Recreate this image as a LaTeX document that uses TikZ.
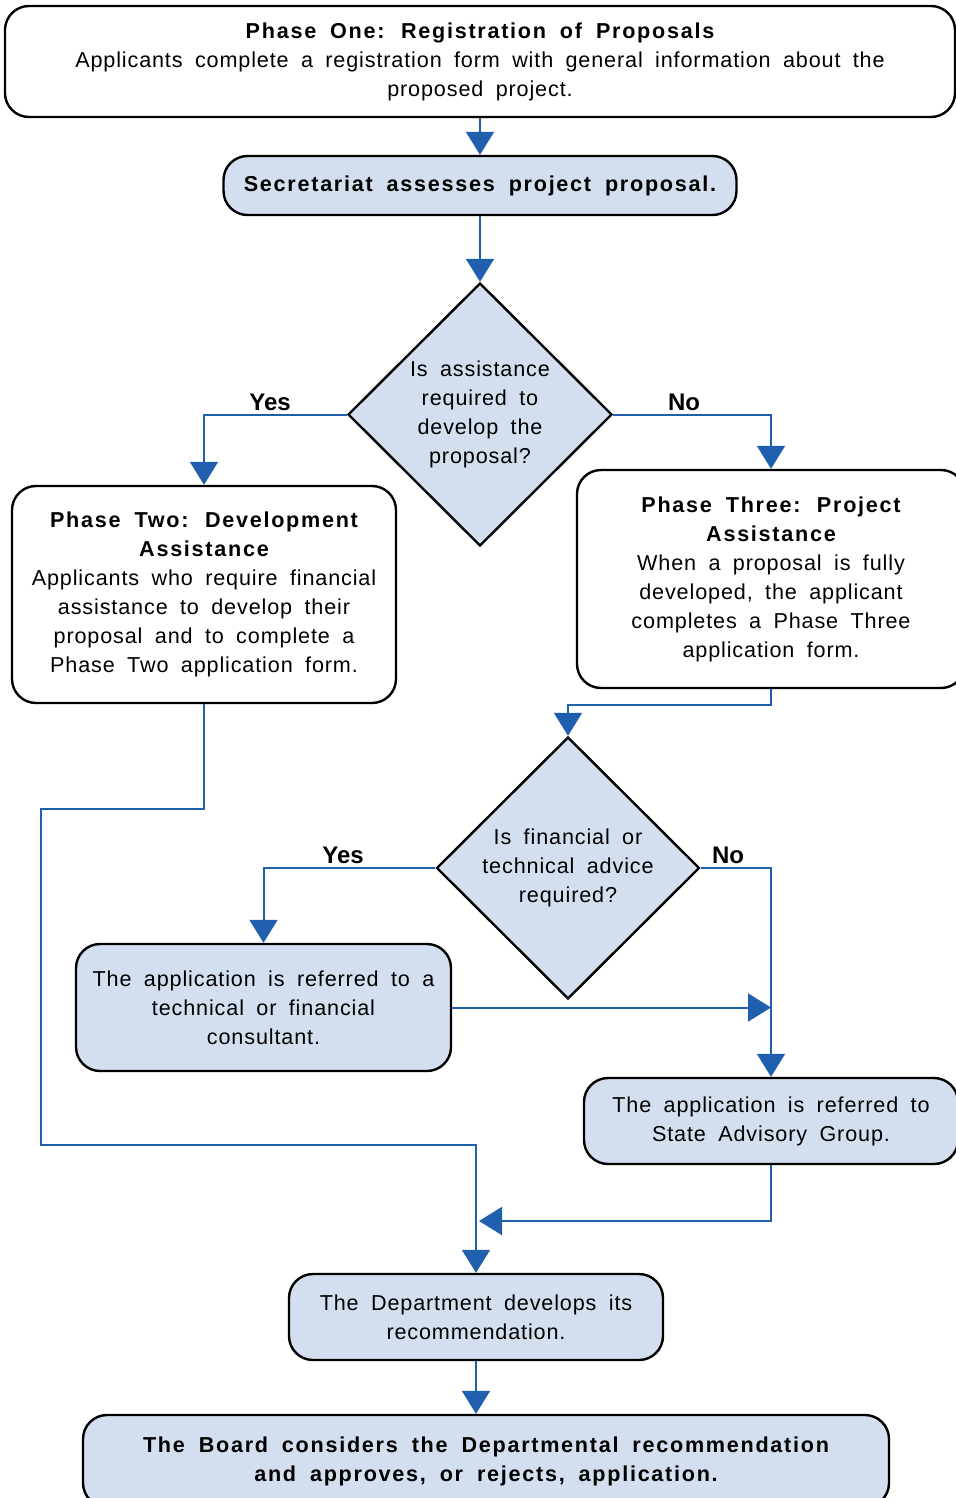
\documentclass[tikz,border=0pt]{standalone}
\usepackage{fontspec}
\setmainfont{Liberation Sans}[LetterSpace=4,WordSpace=1.8,
  BoldFeatures={LetterSpace=8,WordSpace=1.8}]
\newfontfamily\answerfont{Liberation Sans}
\usetikzlibrary{arrows.meta,positioning,calc,shapes.geometric}
\usepackage{xcolor}
\definecolor{FlowBlue}{HTML}{1F5FAD}
\definecolor{BoxBlue}{HTML}{D3DFEE}
\newcommand{\px}{0.5pt}

\tikzset{
  box/.style={draw=black,line width=1.2pt,rounded corners=12pt,align=center,inner sep=0pt,
    font=\fontsize{10.8}{14.5}\selectfont},
  plainbox/.style={box,fill=white},
  bluebox/.style={box,fill=BoxBlue},
  decision/.style={diamond,aspect=1,draw=black,line width=1.2pt,fill=BoxBlue,inner sep=0pt,
    align=center,font=\fontsize{10.8}{14.5}\selectfont},
  link/.style={draw=FlowBlue,line width=1pt},
  arr/.style={link,-{Triangle[width=14pt,length=11.5pt]}},
  answer/.style={font=\answerfont\bfseries\fontsize{12}{14}\selectfont},
}

\begin{document}
\begin{tikzpicture}[x=0.5pt,y=-0.5pt]
  \useasboundingbox (0,0) rectangle (956,1498);
  \clip (0,0) rectangle (956,1498);

  % boxes
  \node[plainbox,minimum width=950*\px,minimum height=111*\px] (p1) at (480,61.5)
    {\bfseries Phase One: Registration of Proposals\\
     Applicants complete a registration form with general information about the\\
     proposed project.};
  \node[bluebox,minimum width=513*\px,minimum height=59*\px] (sec) at (480,185.5)
    {\bfseries Secretariat assesses project proposal.};
  \node[decision,minimum width=264*\px,minimum height=263*\px] (ask1) at (480,414.5)
    {Is assistance\\ required to\\ develop the\\ proposal?};
  \node[plainbox,minimum width=384*\px,minimum height=217*\px] (p2) at (204,594.5)
    {\bfseries Phase Two: Development\\ \bfseries Assistance\\
     Applicants who require financial\\ assistance to develop their\\
     proposal and to complete a\\ Phase Two application form.};
  \node[plainbox,minimum width=388*\px,minimum height=218*\px] (p3) at (771,579)
    {\bfseries Phase Three: Project\\ \bfseries Assistance\\
     When a proposal is fully\\ developed, the applicant\\
     completes a Phase Three\\ application form.};
  \node[decision,minimum width=263*\px,minimum height=262*\px] (ask2) at (568,868)
    {Is financial or\\ technical advice\\ required?};
  \node[bluebox,minimum width=375*\px,minimum height=127*\px] (cons) at (263.5,1007.5)
    {The application is referred to a\\ technical or financial\\ consultant.};
  \node[bluebox,minimum width=374*\px,minimum height=86*\px] (sag) at (771,1121)
    {The application is referred to\\ State Advisory Group.};
  \node[bluebox,minimum width=374*\px,minimum height=86*\px] (dept) at (476,1317)
    {The Department develops its\\ recommendation.};
  \node[bluebox,minimum width=806*\px,minimum height=92*\px] (board) at (486,1461)
    {\bfseries The Board considers the Departmental recommendation\\
     \bfseries and approves, or rejects, application.};

  % yes / no
  \node[answer] (yes1) at (270,402) {Yes};
  \node[answer] (no1) at (684,402) {No};
  \node[answer] (yes2) at (343,855) {Yes};
  \node[answer] (no2) at (728,855) {No};

  \coordinate (p2bend) at (41,809);
  \coordinate (p2low) at (476,1145);
  \coordinate (merge) at (479,1221);

  % connectors
  \draw[arr] (p1) -- (sec);
  \draw[arr] (sec) -- (ask1);
  \draw[arr] (ask1.west) -| (p2.north);
  \draw[arr] (ask1.east) -| (p3.north);
  \draw[arr] (p3.south) -- ++(0,16) -| (ask2.north);
  \draw[arr] (ask2.west) -| (cons.north);
  \draw[arr] (ask2.east) -| (sag.north);
  \draw[arr] (cons.east) -- (cons.east -| sag.north);
  \draw[arr] (p2.south) |- (p2bend) |- (p2low) -- (dept.north);
  \draw[arr] (sag.south) |- (merge);
  \draw[arr] (dept) -- (dept.south |- board.north);
\end{tikzpicture}
\end{document}
